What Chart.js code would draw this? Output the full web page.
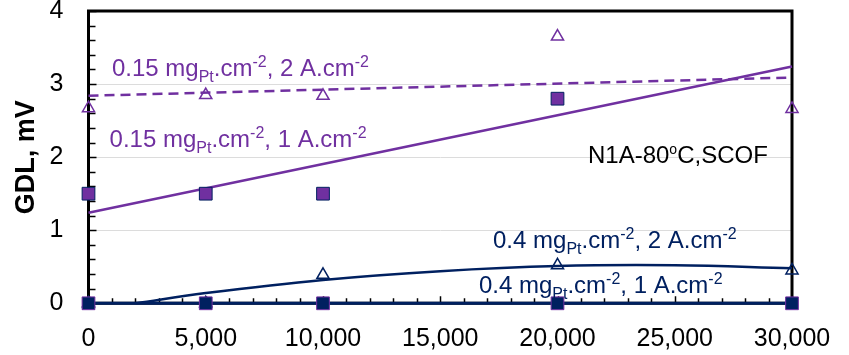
<!DOCTYPE html>
<html>
<head>
<meta charset="utf-8">
<script src="https://cdn.jsdelivr.net/npm/chart.js@4/dist/chart.umd.min.js"></script>
<style>
  html, body { margin: 0; padding: 0; background: #fff; }
  #wrap { width: 849px; height: 355px; }
</style>
</head>
<body>
<div id="wrap"><canvas id="gdl" width="849" height="355"></canvas></div>
<script>
// Operating hours at which GDL voltage loss was measured
const hours = [0, 5000, 10000, 20000, 30000];

// GDL voltage loss (mV) for each loading / current density
const gdl015At2A = [2.67, 2.85, 2.84, 3.65, 2.66];
const gdl015At1A = [1.5, 1.5, 1.5, 2.8, null];
const gdl04At2A  = [0, 0, 0.39, 0.52, 0.45];
const gdl04At1A  = [0, 0, 0, 0, 0];

// Trend lines
const trendLinHours = [0, 30000];
const trend015At2A  = [2.84, 3.09];
const trend015At1A  = [1.24, 3.24];
const trend04At1A   = [0, 0];
const trendPolyHours = [2000, 5000, 10000, 15000, 20000, 25000, 30000];
const trend04At2A    = [0, 0.14, 0.32, 0.44, 0.51, 0.52, 0.48];

// Axis ticks
const xTicks = [0, 5000, 10000, 15000, 20000, 25000, 30000];
const yTicks = [0, 1, 2, 3, 4];

const PURPLE = '#7030A0';
const NAVY = '#002060';
const FONT = '"Liberation Sans", Arial, sans-serif';

const pts = (xs, ys) => xs.map((x, i) => ({ x, y: ys[i] })).filter(p => p.y !== null);

// Series annotations: text runs (sub/superscripts) anchored in data units
const notes = [
  { at: [1000, 3.11], color: PURPLE, parts: [
    { t: '0.15 mg' }, { t: 'Pt', sub: true }, { t: '.cm' }, { t: '-2', sup: true },
    { t: ', 2 A.cm' }, { t: '-2', sup: true } ] },
  { at: [900, 2.14], color: PURPLE, parts: [
    { t: '0.15 mg' }, { t: 'Pt', sub: true }, { t: '.cm' }, { t: '-2', sup: true },
    { t: ', 1 A.cm' }, { t: '-2', sup: true } ] },
  { at: [21300, 1.92], color: '#000', parts: [
    { t: 'N1A-80' }, { t: 'o', sup: true, small: 14 }, { t: 'C,SCOF' } ] },
  { at: [17250, 0.757], color: NAVY, parts: [
    { t: '0.4 mg' }, { t: 'Pt', sub: true }, { t: '.cm' }, { t: '-2', sup: true },
    { t: ', 2 A.cm' }, { t: '-2', sup: true } ] },
  { at: [16650, 0.145], color: NAVY, parts: [
    { t: '0.4 mg' }, { t: 'Pt', sub: true }, { t: '.cm' }, { t: '-2', sup: true },
    { t: ', 1 A.cm' }, { t: '-2', sup: true } ] }
];

// Plot frame and inward tick marks
const framePlugin = {
  id: 'frame',
  beforeDatasetsDraw(chart) {
    const { ctx, chartArea: a, scales: { x, y } } = chart;
    ctx.save();
    ctx.strokeStyle = '#000';
    ctx.lineWidth = 1.5;
    ctx.beginPath();
    for (let v = 0; v <= 4.0001; v += 0.2) {
      const py = Math.round(y.getPixelForValue(v)) + 0.5;
      const major = Math.abs(v - Math.round(v)) < 1e-6;
      ctx.moveTo(a.left, py);
      ctx.lineTo(a.left + (major ? 8 : 7), py);
    }
    for (let v = 0; v <= 30000; v += 1000) {
      const px = Math.round(x.getPixelForValue(v)) + 0.5;
      const major = v % 5000 === 0;
      ctx.moveTo(px, a.bottom);
      ctx.lineTo(px, a.bottom - (major ? 7 : 5));
    }
    ctx.stroke();
    ctx.lineWidth = 3;
    ctx.beginPath();
    ctx.moveTo(a.left, a.bottom);
    ctx.lineTo(a.left, a.top);
    ctx.lineTo(a.right, a.top);
    ctx.lineTo(a.right, a.bottom);
    ctx.lineTo(a.left, a.bottom);
    ctx.stroke();
    ctx.restore();
  },
  afterDraw(chart) {
    const { ctx, scales: { x, y } } = chart;
    ctx.save();
    ctx.textBaseline = 'alphabetic';
    ctx.textAlign = 'left';
    for (const n of notes) {
      let cx = x.getPixelForValue(n.at[0]);
      const by = y.getPixelForValue(n.at[1]);
      ctx.fillStyle = n.color;
      for (const p of n.parts) {
        const small = p.sub || p.sup;
        ctx.font = (small ? (p.small || 16) : 24) + 'px ' + FONT;
        const dy = p.sub ? 6 : p.sup ? -9 : 0;
        ctx.fillText(p.t, cx, by + dy);
        cx += ctx.measureText(p.t).width;
      }
    }
    ctx.restore();
  }
};

const markerBase = { showLine: false, clip: false };
const lineBase = { pointRadius: 0, showLine: true, clip: false, fill: false };

new Chart(document.getElementById('gdl'), {
  type: 'scatter',
  data: {
    datasets: [
      { ...markerBase, label: '0.4 mgPt.cm-2, 1 A.cm-2', data: pts(hours, gdl04At1A),
        pointStyle: 'rect', pointRadius: 9, backgroundColor: NAVY, borderColor: PURPLE, borderWidth: 1 },
      { ...markerBase, label: '0.15 mgPt.cm-2, 1 A.cm-2', data: pts(hours, gdl015At1A),
        pointStyle: 'rect', pointRadius: 9, backgroundColor: PURPLE, borderColor: NAVY, borderWidth: 1 },
      { ...markerBase, label: '0.4 mgPt.cm-2, 2 A.cm-2', data: pts(hours, gdl04At2A),
        pointStyle: 'triangle', pointRadius: 7, backgroundColor: 'rgba(0,0,0,0)', borderColor: NAVY, borderWidth: 1.5 },
      { ...markerBase, label: '0.15 mgPt.cm-2, 2 A.cm-2', data: pts(hours, gdl015At2A),
        pointStyle: 'triangle', pointRadius: 7, backgroundColor: 'rgba(0,0,0,0)', borderColor: PURPLE, borderWidth: 1.5 },
      { ...lineBase, label: 'trend 0.4/1', data: pts(trendLinHours, trend04At1A), borderColor: NAVY, borderWidth: 3 },
      { ...lineBase, label: 'trend 0.4/2', data: pts(trendPolyHours, trend04At2A), borderColor: NAVY, borderWidth: 2.5, tension: 0.4 },
      { ...lineBase, label: 'trend 0.15/1', data: pts(trendLinHours, trend015At1A), borderColor: PURPLE, borderWidth: 2.5 },
      { ...lineBase, label: 'trend 0.15/2', data: pts(trendLinHours, trend015At2A), borderColor: PURPLE, borderWidth: 2.5, borderDash: [10, 6] }
    ]
  },
  options: {
    responsive: false,
    devicePixelRatio: 1,
    animation: false,
    events: [],
    layout: { padding: { left: 0, top: 11, right: 57, bottom: 0 } },
    plugins: { legend: { display: false }, tooltip: { enabled: false } },
    scales: {
      x: {
        type: 'linear', min: 0, max: 30000,
        afterBuildTicks: s => { s.ticks = xTicks.map(v => ({ value: v })); },
        afterFit: s => { s.height = 51.7; s.paddingLeft = 0; s.paddingRight = 0; },
        grid: { display: false, drawTicks: false },
        border: { display: false },
        ticks: {
          padding: 21, maxRotation: 0, autoSkip: false, color: '#000',
          font: { family: FONT, size: 25 },
          callback: v => v.toLocaleString('en-US')
        }
      },
      y: {
        type: 'linear', min: 0, max: 4,
        afterBuildTicks: s => { s.ticks = yTicks.map(v => ({ value: v })); },
        afterFit: s => { s.width = 88.5; s.paddingTop = 0; s.paddingBottom = 0; },
        grid: {
          drawTicks: false, lineWidth: 1,
          color: c => (c.tick && c.tick.value > 0 && c.tick.value < 4) ? '#dcdcdc' : 'rgba(0,0,0,0)'
        },
        border: { display: false },
        title: {
          display: true, text: 'GDL, mV', color: '#000',
          font: { family: FONT, size: 27, weight: 'bold' },
          padding: { top: 10, bottom: 0 }
        },
        ticks: {
          padding: 25, color: '#000',
          font: { family: FONT, size: 25 }
        }
      }
    }
  },
  plugins: [framePlugin]
});
</script>
</body>
</html>
